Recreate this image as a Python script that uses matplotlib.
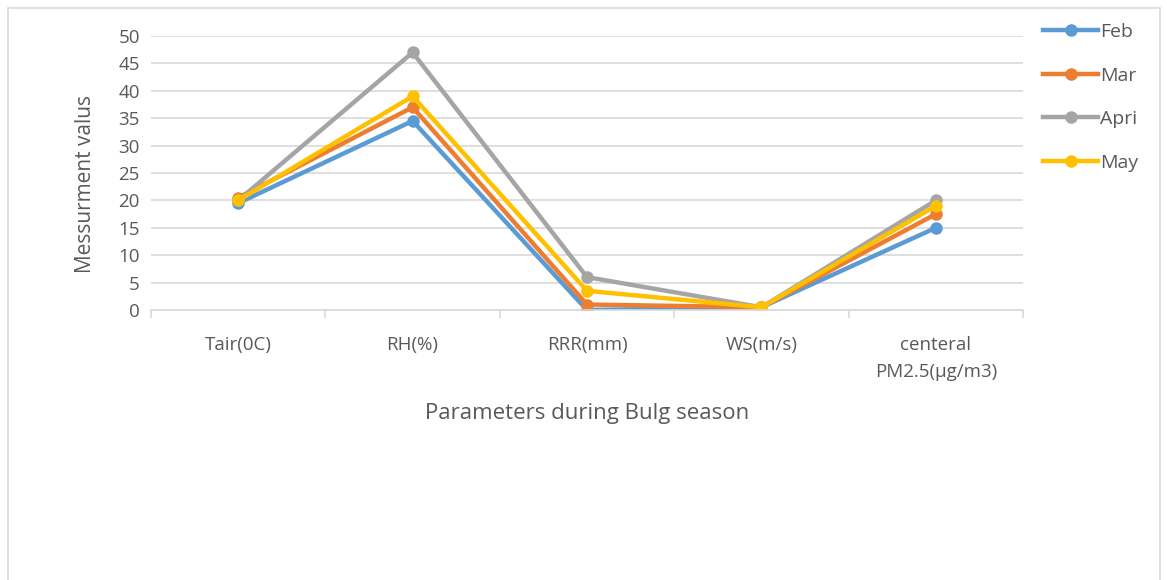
import matplotlib.pyplot as plt
from matplotlib.patches import Rectangle
from matplotlib.lines import Line2D

plt.rcParams['font.family'] = ['Open Sans', 'DejaVu Sans']

categories = ['Tair(0C)', 'RH(%)', 'RRR(mm)', 'WS(m/s)', 'centeral\nPM2.5(µg/m3)']
feb = [19.5, 34.5, 0.0, 0.5, 15.0]
mar = [20.5, 37.0, 1.0, 0.5, 17.5]
apri = [20.0, 47.0, 6.0, 0.5, 20.0]
may = [20.0, 39.0, 3.5, 0.5, 19.0]

series = [('Feb', feb, '#5B9BD5'), ('Mar', mar, '#ED7D31'),
          ('Apri', apri, '#A5A5A5'), ('May', may, '#FFC000')]

text_col = '#595959'
grid_col = '#D9D9D9'

fig = plt.figure(figsize=(11.67, 5.8), dpi=100)
ax = fig.add_axes([0.1294, 0.4655, 0.7472, 0.4724])

x = range(len(categories))
for name, vals, col in series:
    ax.plot(x, vals, color=col, lw=3.2, marker='o', ms=8, label=name,
            solid_joinstyle='round', solid_capstyle='round')

ax.set_xlim(-0.5, len(categories) - 0.5)
ax.set_ylim(0, 50)
ax.set_yticks(range(0, 51, 5))
ax.yaxis.grid(True, color=grid_col, lw=1.2)
ax.set_axisbelow(True)
ax.tick_params(axis='y', length=0, labelsize=13.5, labelcolor=text_col, pad=8)
ax.set_xticks(list(x))
ax.set_xticklabels(categories, linespacing=1.6)
ax.tick_params(axis='x', length=0, labelsize=13.5, labelcolor=text_col, pad=19)
ax.set_xticks([i - 0.5 for i in range(len(categories) + 1)], minor=True)
ax.tick_params(axis='x', which='minor', length=6, color=grid_col, width=1.2)
for s in ['left', 'right', 'top']:
    ax.spines[s].set_visible(False)
ax.spines['bottom'].set_color(grid_col)
ax.spines['bottom'].set_linewidth(1.2)

ax.set_ylabel('Messurment valus', fontsize=15, color=text_col)
ax.yaxis.set_label_coords(-0.063, 0.46)
ax.set_xlabel('Parameters during Bulg season', fontsize=16, color=text_col, labelpad=16)

handles = [Line2D([], [], color=c, lw=3.2, marker='o', ms=8) for _, _, c in series]
leg = fig.legend(handles, [n for n, _, _ in series], loc='upper left',
                 bbox_to_anchor=(0.887, 0.974), frameon=False, fontsize=14,
                 handlelength=2.85, handletextpad=0.1, labelspacing=1.32,
                 borderaxespad=0)
for t in leg.get_texts():
    t.set_color(text_col)

fig.patches.append(Rectangle((0.007, -0.01), 0.987, 0.997, transform=fig.transFigure,
                             fill=False, edgecolor=grid_col, lw=1.2))

fig.savefig('out.png', dpi=100, facecolor='white')
